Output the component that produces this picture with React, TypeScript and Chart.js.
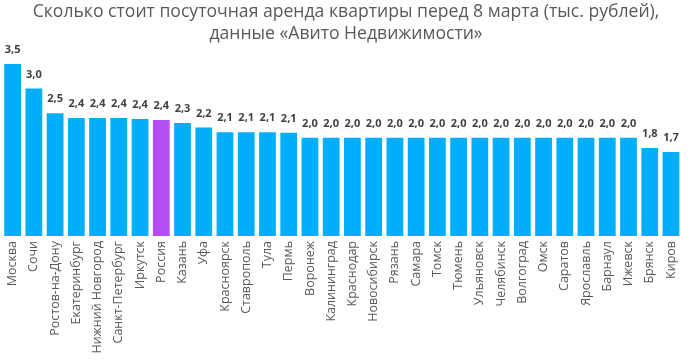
import React, { useEffect, useRef } from "react";
import { Chart, registerables } from "chart.js";

Chart.register(...registerables);

const cities = [
  "Москва", "Сочи", "Ростов-на-Дону", "Екатеринбург", "Нижний Новгород", "Санкт-Петербург",
  "Иркутск", "Россия", "Казань", "Уфа", "Красноярск", "Ставрополь", "Тула", "Пермь",
  "Воронеж", "Калининград", "Краснодар", "Новосибирск", "Рязань", "Самара", "Томск",
  "Тюмень", "Ульяновск", "Челябинск", "Волгоград", "Омск", "Саратов", "Ярославль",
  "Барнаул", "Ижевск", "Брянск", "Киров",
];

const prices = [
  3.5, 3.0, 2.5, 2.4, 2.4, 2.4, 2.38, 2.36, 2.3, 2.21, 2.11, 2.11, 2.11, 2.1,
  2.0, 2.0, 2.0, 2.0, 2.0, 2.0, 2.0, 2.0, 2.0, 2.0, 2.0, 2.0, 2.0, 2.0,
  2.0, 2.0, 1.79, 1.71,
];

const highlight = "Россия";
const titleLines = [
  "Сколько стоит посуточная аренда квартиры перед 8 марта (тыс. рублей),",
  "данные «Авито Недвижимости»",
];

const BLUE = "#00AEF9";
const PURPLE = "#B64DF4";

const labelPlugin = {
  id: "valueLabels",
  afterDatasetsDraw(chart: any) {
    const ctx = chart.ctx;
    const meta = chart.getDatasetMeta(0);
    ctx.save();
    ctx.font = "bold 11px 'Open Sans', sans-serif";
    ctx.fillStyle = "#404040";
    ctx.textAlign = "center";
    ctx.textBaseline = "middle";
    meta.data.forEach((bar: any, i: number) => {
      const v = prices[i];
      ctx.fillText(v.toFixed(1).replace(".", ","), bar.x, bar.y - 14);
    });
    ctx.restore();
  },
};

export default function App() {
  const ref = useRef<HTMLCanvasElement>(null);
  useEffect(() => {
    document.body.style.margin = "0";
    const chart = new Chart(ref.current!, {
      type: "bar",
      data: {
        labels: cities,
        datasets: [
          {
            data: prices,
            backgroundColor: cities.map((c) => (c === highlight ? PURPLE : BLUE)),
            borderWidth: 0,
            categoryPercentage: 1,
            barPercentage: 0.79,
          },
        ],
      },
      options: {
        animation: false,
        responsive: false,
        layout: { padding: { left: 2, right: 1, top: 0, bottom: 0 } },
        plugins: {
          legend: { display: false },
          tooltip: { enabled: false },
          title: {
            display: true,
            text: titleLines,
            color: "#595959",
            font: { family: "'Open Sans', sans-serif", size: 17.6, weight: "normal" as any, lineHeight: 1.25 },
            padding: { top: 1, bottom: 19 },
          },
        },
        scales: {
          x: {
            grid: { display: false, drawTicks: false },
            border: { display: false },
            afterFit: (scale: any) => {
              scale.height = 128;
            },
            ticks: {
              color: "#595959",
              font: { family: "'Open Sans', sans-serif", size: 12.5 },
              minRotation: 90,
              maxRotation: 90,
              autoSkip: false,
              padding: 5,
            },
          },
          y: { display: false, min: 0, max: 3.5 },
        },
      },
      plugins: [labelPlugin],
    });
    return () => chart.destroy();
  }, []);
  return <canvas ref={ref} width={691} height={364} style={{ display: "block" }} />;
}
